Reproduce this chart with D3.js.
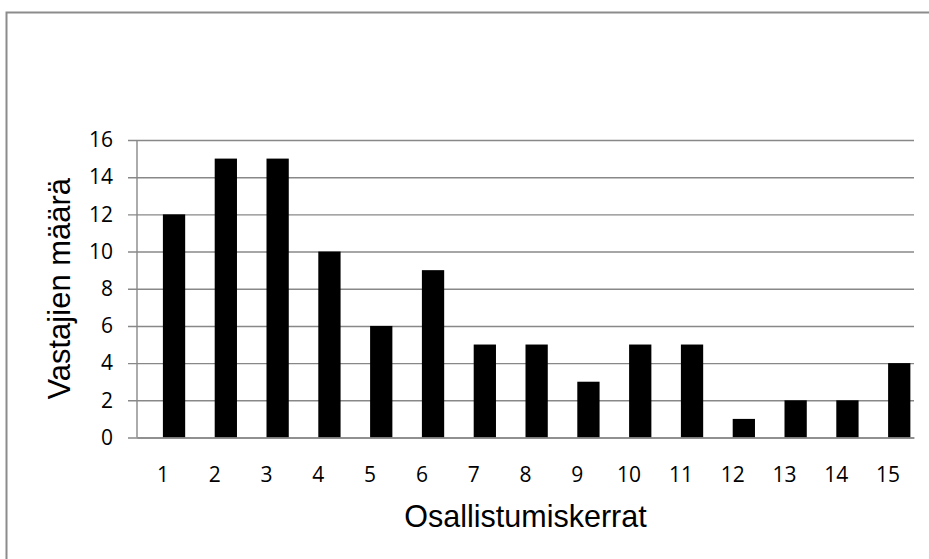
<!DOCTYPE html>
<html>
<head>
<meta charset="utf-8">
<script src="https://cdn.jsdelivr.net/npm/d3@7"></script>
<style>
  html, body { margin: 0; padding: 0; background: #fff; overflow: hidden; }
  svg { display: block; }
</style>
</head>
<body>
<svg id="chart" width="929" height="559"></svg>
<script>
const categories = ["1","2","3","4","5","6","7","8","9","10","11","12","13","14","15"];
const values = [12, 15, 15, 10, 6, 9, 5, 5, 3, 5, 5, 1, 2, 2, 4];
const yTicks = [0, 2, 4, 6, 8, 10, 12, 14, 16];
const xTitle = "Osallistumiskerrat";
const yTitle = "Vastajien määrä";

(function () {
const svg = d3.select("#chart");
const pLeft = 137, pRight = 914, pTop = 140, pBottom = 437.5;
const gridColor = "#888888";

// outer chart border (only top and left edges are inside the picture)
svg.append("path")
  .attr("d", "M6.5,559 L6.5,12.5 L929,12.5")
  .attr("fill", "none").attr("stroke", "#8c8c8c").attr("stroke-width", 2);

const x = d3.scaleBand().domain(categories).range([pLeft, pRight]).paddingInner(0).paddingOuter(0);
const y = d3.scaleLinear().domain([0, 16]).range([pBottom, pTop]);

// y axis with gridlines
const yAxis = d3.axisLeft(y).tickValues(yTicks).tickSize(-(pRight - pLeft)).tickSizeOuter(0).tickPadding(0);
const yg = svg.append("g").attr("transform", `translate(${pLeft},0)`).call(yAxis);
yg.select(".domain").remove();
yg.selectAll(".tick line")
  .attr("x1", -9)
  .attr("stroke", gridColor).attr("stroke-width", 1.4);
yg.selectAll(".tick text")
  .attr("x", -24)
  .attr("font-family", "'Open Sans', sans-serif")
  .attr("font-size", 21)
  .attr("fill", "#000");

// vertical axis line
svg.append("line")
  .attr("x1", pLeft).attr("x2", pLeft)
  .attr("y1", pTop).attr("y2", pBottom)
  .attr("stroke", gridColor).attr("stroke-width", 1.4);

// bars (offset right of band center)
const bw = x.bandwidth() * 0.43;
svg.append("g").selectAll("rect").data(values).join("rect")
  .attr("x", (d, i) => x(categories[i]) + x.bandwidth() / 2)
  .attr("y", d => y(d))
  .attr("width", bw)
  .attr("height", d => y(0) - y(d))
  .attr("fill", "#000");

// x axis line on top
const xAxis = d3.axisBottom(x).tickSize(0).tickPadding(0);
const xg = svg.append("g").attr("transform", `translate(0,${pBottom})`).call(xAxis);
xg.select(".domain").attr("stroke", gridColor).attr("stroke-width", 1.4);
xg.selectAll(".tick text")
  .attr("y", 0).attr("dy", 0)
  .attr("transform", "translate(0,44)")
  .attr("font-family", "'Open Sans', sans-serif")
  .attr("font-size", 21)
  .attr("fill", "#000");

// axis titles
svg.append("text")
  .attr("x", (pLeft + pRight) / 2).attr("y", 527)
  .attr("text-anchor", "middle")
  .attr("font-family", "'Liberation Sans', Arial, sans-serif")
  .attr("font-size", 30.5)
  .attr("fill", "#000")
  .text(xTitle);

svg.append("text")
  .attr("transform", `translate(70,${(pTop + pBottom) / 2}) rotate(-90)`)
  .attr("text-anchor", "middle")
  .attr("font-family", "'Liberation Sans', Arial, sans-serif")
  .attr("font-size", 31)
  .attr("fill", "#000")
  .text(yTitle);
})();
</script>
</body>
</html>
